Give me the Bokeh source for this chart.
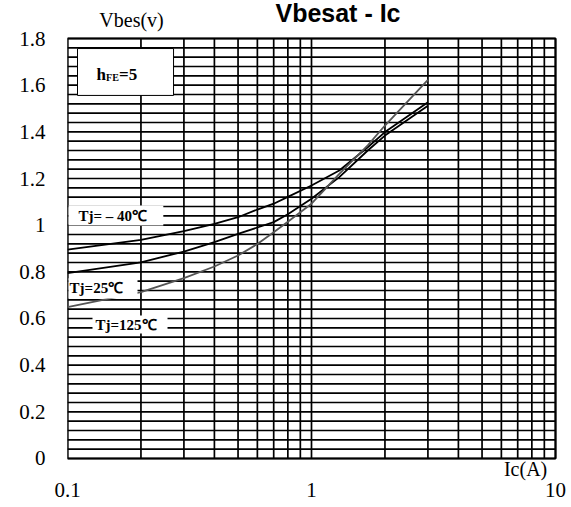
from bokeh.plotting import figure
from bokeh.models import FixedTicker, Range1d
from bokeh.core.properties import value
from bokeh.embed import file_html
from bokeh.resources import INLINE

# ---- data ----
ic = [0.1, 0.2, 0.3, 0.4, 0.5, 0.6, 0.7, 0.8, 1.0, 1.3, 1.7, 2.0, 3.0]
vbes_m40 = [0.895, 0.937, 0.974, 1.006, 1.034, 1.067, 1.092, 1.121, 1.17, 1.234, 1.334, 1.399, 1.527]
vbes_25 = [0.794, 0.841, 0.887, 0.927, 0.963, 0.99, 1.013, 1.047, 1.113, 1.206, 1.32, 1.384, 1.512]
vbes_125 = [0.649, 0.713, 0.773, 0.823, 0.870, 0.919, 0.97, 1.015, 1.092, 1.22, 1.342, 1.427, 1.623]

x_ticks = [0.1, 1, 10]
y_ticks = [0, 0.2, 0.4, 0.6, 0.8, 1.0, 1.2, 1.4, 1.6, 1.8]
y_tick_labels = {0: "0", 0.2: "0.2", 0.4: "0.4", 0.6: "0.6", 0.8: "0.8", 1.0: "1",
                 1.2: "1.2", 1.4: "1.4", 1.6: "1.6", 1.8: "1.8"}
x_tick_labels = {0.1: "0.1", 1: "1", 10: "10"}
x_grid = [0.1, 0.2, 0.3, 0.4, 0.5, 0.6, 0.7, 0.8, 0.9, 1, 2, 3, 4, 5, 6, 7, 8, 9, 10]
y_grid = [round(0.04 * k, 2) for k in range(46)]
x_min, x_max = 0.1, 10
y_min, y_max = 0.0, 1.8

SERIF = "Liberation Serif"

# frame spans the whole drawing area so that the title / captions can be drawn as glyphs
PX_DEC = 244.0     # pixels per decade on x
PX_UNIT = 233.33   # pixels per volt on y
p = figure(width=571, height=507, x_axis_type="log",
           x_range=Range1d(0.1, 10 ** ((571 - 67) / PX_DEC - 1)),
           y_range=Range1d(-22 / PX_UNIT, 1.8 + 38 / PX_UNIT),
           output_backend="svg", toolbar_location=None,
           min_border_left=67, min_border_right=0, min_border_top=0, min_border_bottom=27)

p.background_fill_color = "white"
p.border_fill_color = "white"
p.outline_line_color = None
p.xgrid.grid_line_color = None
p.ygrid.grid_line_color = None

# axes (tick labels only)
p.xaxis.ticker = FixedTicker(ticks=x_ticks)
p.yaxis.ticker = FixedTicker(ticks=y_ticks)
p.xaxis.major_label_overrides = x_tick_labels
p.yaxis.major_label_overrides = y_tick_labels
for ax in (p.xaxis, p.yaxis):
    ax.axis_line_color = None
    ax.major_tick_line_color = None
    ax.minor_tick_line_color = None
    ax.major_tick_out = 0
    ax.major_tick_in = 0
    ax.minor_tick_out = 0
    ax.minor_tick_in = 0
    ax.major_label_text_font = SERIF
    ax.major_label_text_font_size = "21px"
    ax.major_label_text_color = "black"
p.yaxis.major_label_standoff = 22
p.xaxis.major_label_standoff = 2

# chart grid, limited to the chart box
p.segment(x0=x_grid, y0=[y_min] * len(x_grid), x1=x_grid, y1=[y_max] * len(x_grid),
          line_color="black", line_width=1.7)
p.segment(x0=[x_min] * len(y_grid), y0=y_grid, x1=[x_max] * len(y_grid), y1=y_grid,
          line_color="black", line_width=1.7)
p.quad(left=[x_min], right=[x_max], bottom=[y_min], top=[y_max],
       fill_color=None, line_color="black", line_width=2)

# curves
p.line(ic, vbes_m40, line_color="black", line_width=1.8)
p.line(ic, vbes_25, line_color="black", line_width=1.8)
p.line(ic, vbes_125, line_color="#555555", line_width=1.8)

# label boxes (white)
p.quad(left=[0.101, 0.101, 0.1266], right=[0.247, 0.1936, 0.257],
       bottom=[0.999, 0.686, 0.536], top=[1.084, 0.772, 0.613],
       fill_color="white", line_color=None)
p.quad(left=[0.1099], right=[0.272], bottom=[1.556], top=[1.757],
       fill_color="white", line_color="black", line_width=1)

lbl_font = value(SERIF)
p.text(x=[0.111], y=[1.041], text=["Tj= \u2013 40\u2103"], text_font=lbl_font,
       text_font_style="bold", text_font_size="15px", text_baseline="middle", text_color="black")
p.text(x=[0.102], y=[0.729], text=["Tj=25\u2103"], text_font=lbl_font,
       text_font_style="bold", text_font_size="15px", text_baseline="middle", text_color="black")
p.text(x=[0.1303], y=[0.574], text=["Tj=125\u2103"], text_font=lbl_font,
       text_font_style="bold", text_font_size="15px", text_baseline="middle", text_color="black")

# hFE=5 with subscript
p.text(x=[0.1315], y=[1.645], text=["h"], text_font=lbl_font, text_font_style="bold",
       text_font_size="17px", text_baseline="middle", text_color="black")
p.text(x=[0.1315], y=[1.633], text=["FE"], x_offset=9.5, text_font=lbl_font, text_font_style="bold",
       text_font_size="10px", text_baseline="middle", text_color="black")
p.text(x=[0.1315], y=[1.645], text=["=5"], x_offset=22.5, text_font=lbl_font, text_font_style="bold",
       text_font_size="17px", text_baseline="middle", text_color="black")

# title and axis captions
p.text(x=[1.284], y=[1.908], text=["Vbesat - Ic"], text_font=value("Liberation Sans"),
       text_font_style="bold", text_font_size="25px", text_align="center",
       text_baseline="middle", text_color="black")
p.text(x=[0.183], y=[1.881], text=["Vbes(v)"], text_font=lbl_font,
       text_font_size="20px", text_align="center", text_baseline="middle", text_color="black")
p.text(x=[7.54], y=[-0.043], text=["Ic(A)"], text_font=lbl_font,
       text_font_size="20px", text_align="center", text_baseline="middle", text_color="black")

open("out.html", "w").write(file_html(p, INLINE))
